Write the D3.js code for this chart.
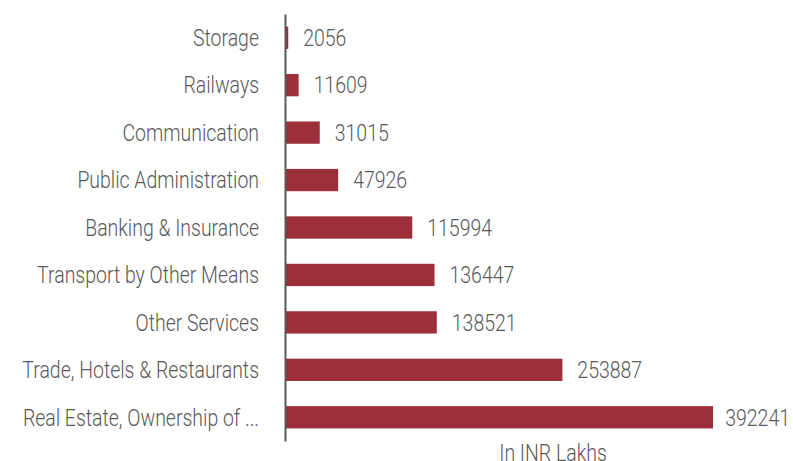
<!DOCTYPE html>
<html>
<head>
<meta charset="utf-8">
<script src="https://cdn.jsdelivr.net/npm/d3@7"></script>
<style>
  body { margin: 0; background: #fff; }
  svg text { font-family: Roboto, "Liberation Sans", sans-serif; font-weight: 300; fill: #595959; }
</style>
</head>
<body>
<svg id="chart" width="793" height="461"></svg>
<script>
// Categories, top to bottom
var sectors = [
  "Storage",
  "Railways",
  "Communication",
  "Public Administration",
  "Banking & Insurance",
  "Transport by Other Means",
  "Other Services",
  "Trade, Hotels & Restaurants",
  "Real Estate, Ownership of ..."
];

// Values (INR Lakhs)
var values = [2056, 11609, 31015, 47926, 115994, 136447, 138521, 253887, 392241];

var axisTitle = "In INR Lakhs";

var width = 793, height = 461;
var fontSize = 23;
var barColor = "#9d2f3b";

var svg = d3.select("#chart");

var data = sectors.map(function(s, i) { return { name: s, value: values[i] }; });

// the original uses a condensed face, so squeeze the text horizontally
var probe = svg.append("text").attr("font-size", fontSize).text("Transport by Other Means");
var sx = 222 / probe.node().getComputedTextLength();
probe.remove();

// y scale for categories
var y = d3.scaleBand()
  .domain(sectors)
  .range([14, 441])
  .paddingInner(0.53)
  .paddingOuter(0.265);

// x scale for values
var x = d3.scaleLinear()
  .domain([0, d3.max(values)])
  .range([286, 713]);

// bars
svg.selectAll("rect.bar")
  .data(data)
  .enter()
  .append("rect")
  .attr("class", "bar")
  .attr("x", x(0))
  .attr("y", function(d) { return y(d.name); })
  .attr("width", function(d) { return x(d.value) - x(0); })
  .attr("height", y.bandwidth())
  .attr("fill", barColor);

// category axis
var yAxis = d3.axisLeft(y).tickSize(0).tickPadding(26);

var gy = svg.append("g")
  .attr("transform", "translate(285,0)")
  .call(yAxis)
  .attr("font-family", null)
  .attr("font-size", null);

gy.select(".domain")
  .attr("stroke", "#595959")
  .attr("stroke-width", 2);

gy.selectAll(".tick text")
  .attr("font-size", fontSize)
  .attr("dy", "0.36em")
  .attr("fill", "#595959")
  .attr("x", -26 / sx)
  .attr("transform", "scale(" + sx + ",1)");

// value labels
svg.selectAll("text.val")
  .data(data)
  .enter()
  .append("text")
  .attr("class", "val")
  .attr("font-size", fontSize)
  .attr("y", function(d) { return y(d.name) + y.bandwidth() / 2; })
  .attr("dy", "0.36em")
  .attr("transform", "scale(" + sx + ",1)")
  .text(function(d) { return d.value; })
  .attr("x", function(d) {
    var w = this.getComputedTextLength() * sx;
    return Math.min(x(d.value) + 15, width - 3 - w) / sx;
  });

// axis title
svg.append("text")
  .attr("x", 553 / sx)
  .attr("y", 461)
  .attr("text-anchor", "middle")
  .attr("font-size", fontSize)
  .attr("transform", "scale(" + sx + ",1)")
  .text(axisTitle);
</script>
</body>
</html>
